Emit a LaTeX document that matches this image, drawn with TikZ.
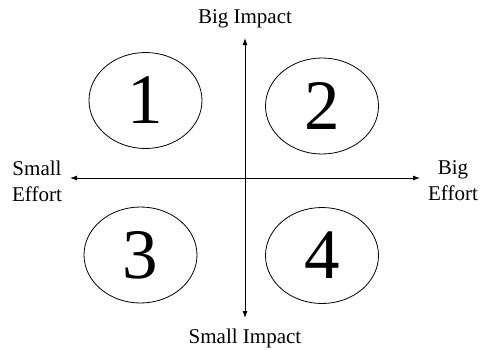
\documentclass[tikz,border=0pt]{standalone}
\usepackage{fontspec}
\setmainfont{Liberation Serif}
\usepackage{tikz}
\usetikzlibrary{positioning, arrows.meta, shapes.geometric}

\begin{document}
\begin{tikzpicture}[x=1pt, y=1pt,
  axis/.style={line width=0.9pt, -{Latex[length=7pt, width=5pt]}},
  quad/.style={draw, ellipse, line width=0.8pt, inner sep=0pt, minimum width=113pt, minimum height=96pt, font=\fontsize{71}{71}\selectfont},
  lab/.style={font=\fontsize{21}{26}\selectfont, align=center, inner sep=0pt}]
\useasboundingbox (0,0) rectangle (481,349);
\coordinate (o) at (245,171);
\coordinate (top) at (245,311);
\coordinate (bot) at (245,31);
\coordinate (lft) at (70,171);
\coordinate (rgt) at (420,171);
\draw[axis] (o) -- (top);
\draw[axis] (o) -- (bot);
\draw[axis] (o) -- (lft);
\draw[axis] (o) -- (rgt);
\node[quad] (q1) at (145.5,248.5) {1};
\node[quad] (q2) at (322,243) {2};
\node[quad] (q3) at (140.5,94) {3};
\node[quad] (q4) at (322,93.5) {4};
\node[lab, anchor=base] (big) at (245,326) {Big Impact};
\node[lab, anchor=base] (small) at (245,6) {Small Impact};
\node[lab] (easy) at (37,168) {Small\\Effort};
\node[lab] (hard) at (453,168) {Big\\Effort};
\end{tikzpicture}
\end{document}
